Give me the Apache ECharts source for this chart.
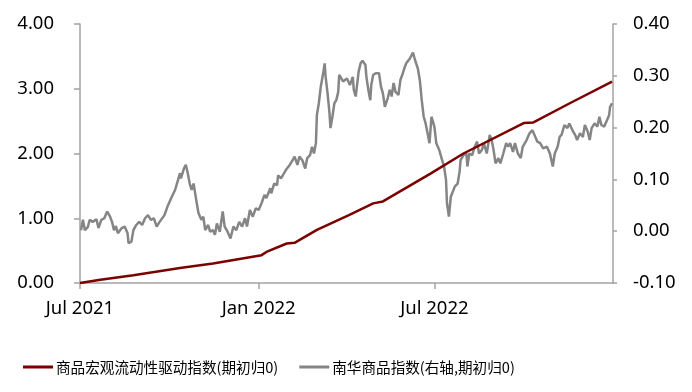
<!DOCTYPE html>
<html>
<head>
<meta charset="utf-8">
<script src="https://cdn.jsdelivr.net/npm/echarts@6/dist/echarts.min.js"></script>
<style>html,body{margin:0;padding:0;background:#fff}#c{width:692px;height:392px}</style>
</head>
<body>
<div id="c"></div>
<script>
const seriesNames = ['商品宏观流动性驱动指数(期初归0)', '南华商品指数(右轴,期初归0)'];
const xMin = '2021-07-01';
const xMax = '2023-01-01';
const xTickDates = ['2021-07-01', '2022-01-01', '2022-07-01'];
const xLabelDates = ['2021-07-01', '2022-01-01', '2022-07-01'];
const monthNames = ['Jan','Feb','Mar','Apr','May','Jun','Jul','Aug','Sep','Oct','Nov','Dec'];

const redDates = ['2021-07-01','2021-07-22','2021-08-25','2021-10-12','2021-11-15','2022-01-04','2022-01-09','2022-01-30','2022-02-07','2022-03-02','2022-04-04','2022-04-29','2022-05-09','2022-06-27','2022-07-31','2022-10-01','2022-10-11','2022-11-18','2022-12-31'];
const redValues = [0.00,0.05,0.12,0.23,0.30,0.43,0.48,0.61,0.62,0.82,1.05,1.23,1.26,1.69,2.00,2.47,2.48,2.78,3.11];

const grayDates = ['2021-07-02','2021-07-04','2021-07-06','2021-07-09','2021-07-11','2021-07-14','2021-07-18','2021-07-20','2021-07-23','2021-07-26','2021-07-29','2021-08-01','2021-08-03','2021-08-05','2021-08-07','2021-08-09','2021-08-13','2021-08-16','2021-08-19','2021-08-20','2021-08-23','2021-08-25','2021-08-28','2021-08-31','2021-09-03','2021-09-06','2021-09-09','2021-09-12','2021-09-15','2021-09-18','2021-09-21','2021-09-26','2021-09-29','2021-10-03','2021-10-07','2021-10-10','2021-10-12','2021-10-13','2021-10-16','2021-10-18','2021-10-20','2021-10-22','2021-10-24','2021-10-26','2021-10-29','2021-10-31','2021-11-03','2021-11-05','2021-11-07','2021-11-10','2021-11-12','2021-11-15','2021-11-17','2021-11-19','2021-11-22','2021-11-25','2021-11-27','2021-11-30','2021-12-03','2021-12-06','2021-12-09','2021-12-12','2021-12-15','2021-12-18','2021-12-20','2021-12-23','2021-12-26','2021-12-29','2022-01-01','2022-01-04','2022-01-07','2022-01-09','2022-01-13','2022-01-14','2022-01-17','2022-01-20','2022-01-21','2022-01-24','2022-01-26','2022-01-29','2022-02-02','2022-02-05','2022-02-07','2022-02-10','2022-02-12','2022-02-15','2022-02-18','2022-02-20','2022-02-23','2022-02-25','2022-02-27','2022-03-01','2022-03-02','2022-03-04','2022-03-06','2022-03-09','2022-03-10','2022-03-11','2022-03-13','2022-03-15','2022-03-16','2022-03-18','2022-03-20','2022-03-22','2022-03-24','2022-03-25','2022-03-29','2022-03-31','2022-04-02','2022-04-05','2022-04-08','2022-04-09','2022-04-11','2022-04-14','2022-04-16','2022-04-18','2022-04-21','2022-04-22','2022-04-24','2022-04-26','2022-04-27','2022-04-29','2022-05-02','2022-05-05','2022-05-07','2022-05-09','2022-05-11','2022-05-14','2022-05-16','2022-05-18','2022-05-20','2022-05-22','2022-05-25','2022-05-27','2022-05-29','2022-05-31','2022-06-02','2022-06-06','2022-06-09','2022-06-11','2022-06-14','2022-06-16','2022-06-18','2022-06-20','2022-06-22','2022-06-24','2022-06-26','2022-06-28','2022-07-01','2022-07-03','2022-07-06','2022-07-09','2022-07-11','2022-07-13','2022-07-14','2022-07-16','2022-07-18','2022-07-20','2022-07-22','2022-07-25','2022-07-27','2022-07-28','2022-07-31','2022-08-03','2022-08-04','2022-08-06','2022-08-09','2022-08-11','2022-08-14','2022-08-16','2022-08-19','2022-08-21','2022-08-24','2022-08-27','2022-08-29','2022-08-31','2022-09-02','2022-09-05','2022-09-07','2022-09-10','2022-09-13','2022-09-15','2022-09-17','2022-09-20','2022-09-22','2022-09-25','2022-09-28','2022-09-30','2022-10-04','2022-10-07','2022-10-10','2022-10-13','2022-10-15','2022-10-18','2022-10-21','2022-10-25','2022-10-28','2022-10-31','2022-11-02','2022-11-05','2022-11-07','2022-11-09','2022-11-12','2022-11-15','2022-11-17','2022-11-21','2022-11-23','2022-11-25','2022-11-28','2022-12-01','2022-12-03','2022-12-06','2022-12-08','2022-12-10','2022-12-13','2022-12-16','2022-12-18','2022-12-20','2022-12-23','2022-12-26','2022-12-28','2022-12-29','2022-12-31'];
const grayValues = [0.002,0.022,0.002,0.008,0.022,0.018,0.023,0.006,0.022,0.025,0.038,0.028,0.018,0.002,0.010,-0.004,0.006,0.009,-0.004,-0.023,-0.020,0.002,0.012,0.018,0.012,0.025,0.031,0.022,0.025,0.009,0.018,0.031,0.047,0.064,0.080,0.099,0.112,0.102,0.121,0.128,0.112,0.092,0.080,0.092,0.057,0.035,0.022,0.028,0.002,0.012,-0.001,0.002,-0.007,0.015,-0.001,0.038,0.009,-0.001,-0.014,0.009,0.002,0.018,0.009,0.025,0.009,0.041,0.028,0.044,0.041,0.054,0.070,0.064,0.083,0.073,0.092,0.089,0.108,0.102,0.108,0.118,0.128,0.137,0.144,0.128,0.144,0.137,0.121,0.141,0.147,0.163,0.150,0.170,0.224,0.247,0.279,0.311,0.324,0.298,0.266,0.228,0.199,0.221,0.247,0.253,0.269,0.302,0.289,0.286,0.295,0.282,0.298,0.273,0.260,0.308,0.324,0.329,0.321,0.298,0.273,0.253,0.282,0.302,0.305,0.305,0.279,0.266,0.240,0.257,0.273,0.260,0.286,0.269,0.263,0.292,0.302,0.314,0.324,0.334,0.345,0.331,0.314,0.292,0.253,0.221,0.208,0.189,0.170,0.221,0.202,0.170,0.157,0.137,0.125,0.099,0.054,0.028,0.067,0.076,0.086,0.092,0.115,0.137,0.147,0.150,0.125,0.150,0.147,0.160,0.173,0.150,0.157,0.170,0.150,0.186,0.176,0.157,0.131,0.141,0.131,0.150,0.170,0.163,0.170,0.153,0.170,0.150,0.141,0.163,0.176,0.189,0.195,0.182,0.173,0.170,0.160,0.163,0.150,0.125,0.150,0.163,0.182,0.186,0.205,0.199,0.208,0.192,0.186,0.176,0.189,0.182,0.205,0.192,0.176,0.199,0.208,0.202,0.221,0.205,0.202,0.215,0.224,0.240,0.247];

const leftMin = 0, leftMax = 4, leftInterval = 1;
const rightMin = -0.1, rightMax = 0.4, rightInterval = 0.1;

const ts = s => +echarts.number.parseDate(s);
const chart = echarts.init(document.getElementById('c'), null, {renderer: 'canvas'});
const axisColor = '#a3a3a3';
const labelFont = {color: '#000', fontSize: 18.5, fontFamily: 'Noto Sans'};

chart.setOption({
  animation: false,
  backgroundColor: '#fff',
  grid: {left: 80, right: 79, top: 24, bottom: 109, containLabel: false, outerBoundsMode: 'none'},
  legend: {
    left: 23, top: 358, padding: 0,
    itemWidth: 30, itemHeight: 3, itemGap: 21,
    icon: 'rect',
    textStyle: {color: '#000', fontSize: 14.6, fontFamily: 'Noto Sans CJK SC', lineHeight: 18, padding: [0, 0, 0, -2]},
    data: seriesNames
  },
  xAxis: {
    type: 'value',
    min: ts(xMin), max: ts(xMax),
    axisLine: {lineStyle: {color: axisColor, width: 1.5}},
    axisTick: {show: true, length: 6, lineStyle: {color: axisColor, width: 1.5}, customValues: xTickDates.map(ts)},
    axisLabel: {
      ...labelFont, margin: 16, hideOverlap: false,
      customValues: xLabelDates.map(ts),
      formatter: v => { const d = new Date(v); return monthNames[d.getMonth()] + ' ' + d.getFullYear(); }
    },
    splitLine: {show: false}
  },
  yAxis: [{
    type: 'value', min: leftMin, max: leftMax, interval: leftInterval,
    axisLine: {show: true, lineStyle: {color: axisColor, width: 1.5}},
    axisTick: {show: true, length: 6, lineStyle: {color: axisColor, width: 1.5}},
    axisLabel: {...labelFont, margin: 26, formatter: v => v.toFixed(2)},
    splitLine: {show: false}
  }, {
    type: 'value', min: rightMin, max: rightMax, interval: rightInterval, position: 'right',
    axisLine: {show: true, lineStyle: {color: axisColor, width: 1.5}},
    axisTick: {show: true, length: 4, lineStyle: {color: axisColor, width: 1.5}},
    axisLabel: {...labelFont, margin: 20, formatter: v => v.toFixed(2)},
    splitLine: {show: false}
  }],
  series: [{
    name: seriesNames[0], type: 'line', yAxisIndex: 0, showSymbol: false, symbol: 'none',
    color: '#7b0000', lineStyle: {color: '#7b0000', width: 2.5}, z: 3,
    data: redDates.map((d, i) => [ts(d), redValues[i]])
  }, {
    name: seriesNames[1], type: 'line', yAxisIndex: 1, showSymbol: false, symbol: 'none',
    color: '#858585', lineStyle: {color: '#858585', width: 2.5}, z: 2,
    data: grayDates.map((d, i) => [ts(d), grayValues[i]])
  }]
});
</script>
</body>
</html>
